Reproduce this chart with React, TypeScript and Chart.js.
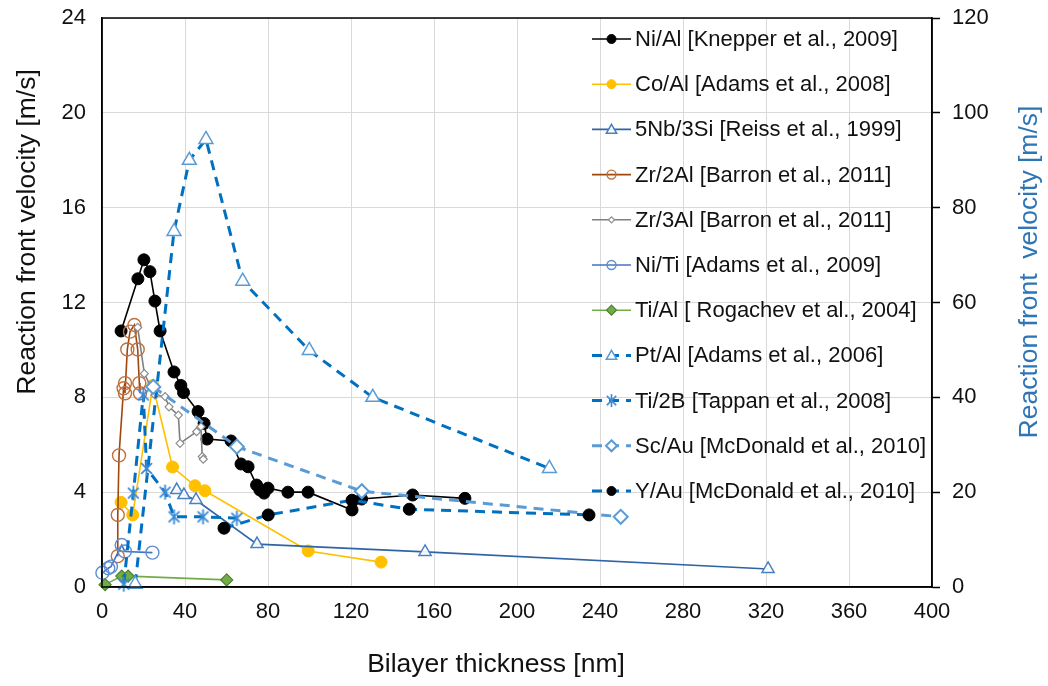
import React, { useEffect, useRef } from 'react';
import { Chart, registerables } from 'chart.js';

Chart.register(...registerables);

const FONT = "'Liberation Sans', Arial, sans-serif";

// ---- Data (bilayer thickness [nm], velocity [m/s]) ----
const niAl: [number, number][] = [
  [9.2, 10.8], [17.3, 13.0], [20.2, 13.8], [23.1, 13.3], [25.5, 12.06], [28, 10.8],
  [34.7, 9.07], [38, 8.5], [39.3, 8.2], [46.3, 7.4], [49.2, 6.9], [50.6, 6.24],
  [62.2, 6.16], [67, 5.19], [70.4, 5.07], [74.5, 4.3], [76.1, 4.09], [78.1, 3.96],
  [80, 4.17], [89.6, 4.0], [99.3, 4.0], [120.5, 3.25], [125.1, 3.71], [149.7, 3.88], [174.9, 3.74],
];
const coAl: [number, number][] = [
  [9.2, 3.57], [14.8, 3.04], [24.5, 8.5], [34, 5.06], [44.8, 4.27], [49.6, 4.06], [99.4, 1.52], [134.5, 1.05],
];
const nbSi: [number, number][] = [
  [36, 4.09], [39.5, 3.88], [45.3, 3.67], [74.7, 1.81], [155.7, 1.48], [321, 0.76],
];
const zr2Al: [number, number][] = [
  [7.6, 1.3], [7.6, 3.04], [8.2, 5.55], [10.4, 8.38], [11.1, 8.6], [11.1, 8.17], [12.2, 10.02],
  [13.5, 10.77], [15.6, 11.05], [17.2, 10.02], [18, 8.6], [18.3, 8.17],
];
const zr3Al: [number, number][] = [
  [17.2, 10.95], [20.4, 9.0], [25.5, 8.1], [30.4, 8.03], [32.3, 7.6], [36.8, 7.25], [37.6, 6.06],
  [45.6, 6.55], [47.7, 6.76], [48.3, 5.5], [48.8, 5.39],
];
const niTi: [number, number][] = [
  [0.2, 0.6], [3, 0.79], [4.3, 0.86], [9.5, 1.77], [11, 1.5], [24.3, 1.45],
];
const tiAl: [number, number][] = [
  [1.5, 0.1], [9.5, 0.46], [12.6, 0.46], [60.1, 0.3],
];
// secondary axis series (right axis, m/s)
const ptAl: [number, number][] = [
  [16, 0.6], [34.7, 75], [42.1, 90], [50.1, 94.4], [67.8, 64.5], [99.9, 49.9], [130.5, 40], [215.6, 25],
];
const ti2B: [number, number][] = [
  [10.5, 0.6], [15.1, 19.8], [19.9, 40.5], [21.5, 25], [30.4, 20], [34.7, 14.8], [48.7, 14.8], [65, 14.5],
];
const scAu: [number, number][] = [
  [24.7, 42.2], [65, 29.6], [125.2, 20.2], [250, 14.8],
];
const yAu: [number, number][] = [
  [58.8, 12.4], [80.1, 15.2], [120.5, 18.3], [148.1, 16.4], [234.7, 15.2],
];

const labels = [
  'Ni/Al [Knepper et al., 2009]',
  'Co/Al [Adams et al., 2008]',
  '5Nb/3Si [Reiss et al., 1999]',
  'Zr/2Al [Barron et al., 2011]',
  'Zr/3Al [Barron et al., 2011]',
  'Ni/Ti [Adams et al., 2009]',
  'Ti/Al [ Rogachev et al., 2004]',
  'Pt/Al [Adams et al., 2006]',
  'Ti/2B [Tappan et al., 2008]',
  'Sc/Au [McDonald et al., 2010]',
  'Y/Au [McDonald et al., 2010]',
];

const xTitle = 'Bilayer thickness [nm]';
const yTitle = 'Reaction front velocity [m/s]';
const y2Title = 'Reaction front  velocity [m/s]';

function makeAsterisk(color: string, size: number, lw: number) {
  const c = document.createElement('canvas');
  c.width = size;
  c.height = size;
  const g = c.getContext('2d')!;
  g.strokeStyle = color;
  g.lineWidth = lw;
  g.lineCap = 'butt';
  const cx = size / 2;
  const r = size / 2 - 1;
  const d = r * 0.72;
  g.beginPath();
  g.moveTo(cx, cx - r); g.lineTo(cx, cx + r);
  g.moveTo(cx - d, cx - d); g.lineTo(cx + d, cx + d);
  g.moveTo(cx + d, cx - d); g.lineTo(cx - d, cx + d);
  g.stroke();
  return c;
}

function drawMarker(ctx: CanvasRenderingContext2D, style: any, x: number, y: number, r: number, fill: string, stroke: string, lw: number) {
  ctx.save();
  ctx.setLineDash([]);
  ctx.lineWidth = lw;
  ctx.strokeStyle = stroke;
  ctx.fillStyle = fill;
  ctx.beginPath();
  if (style === 'circle') {
    ctx.arc(x, y, r, 0, Math.PI * 2);
  } else if (style === 'triangle') {
    for (let k = 0; k < 3; k++) {
      const a = -Math.PI / 2 + (k * 2 * Math.PI) / 3;
      const px = x + Math.cos(a) * r;
      const py = y + Math.sin(a) * r + r * 0.15;
      if (k === 0) ctx.moveTo(px, py); else ctx.lineTo(px, py);
    }
    ctx.closePath();
  } else if (style === 'rectRot') {
    ctx.moveTo(x, y - r); ctx.lineTo(x + r, y); ctx.lineTo(x, y + r); ctx.lineTo(x - r, y); ctx.closePath();
  } else if (style instanceof HTMLCanvasElement) {
    ctx.restore();
    ctx.drawImage(style, x - style.width / 2, y - style.height / 2);
    return;
  }
  ctx.fill();
  ctx.stroke();
  ctx.restore();
}

const toPts = (a: [number, number][]) => a.map(([x, y]) => ({ x, y }));

const noPadV = (w: number) => (s: any) => {
  s.width = w;
  s.paddingTop = 0;
  s.paddingBottom = 0;
};

export default function App() {
  const ref = useRef<HTMLCanvasElement | null>(null);

  useEffect(() => {
    document.body.style.margin = '0';
    const astChart = makeAsterisk('#3a8ad6', 17, 1.8);
    const astLegend = makeAsterisk('#3a8ad6', 15, 1.6);

    const dash = [10, 7];
    const specs: any[] = [
      { data: niAl, axis: 'y', line: '#000000', lw: 1.6, dash: [], ps: 'circle', pr: 6, bg: '#000000', bc: '#000000', bw: 1, lr: 4.5 },
      { data: coAl, axis: 'y', line: '#FFC000', lw: 1.6, dash: [], ps: 'circle', pr: 6, bg: '#FFC000', bc: '#FFC000', bw: 1, lr: 4.5 },
      { data: nbSi, axis: 'y', line: '#2f64a6', lw: 1.6, dash: [], ps: 'triangle', pr: 7, bg: 'rgba(255,255,255,0.9)', bc: '#4a81c0', bw: 1.5, lr: 6 },
      { data: zr2Al, axis: 'y', line: '#9E480E', lw: 1.6, dash: [], ps: 'circle', pr: 6.5, bg: 'rgba(0,0,0,0)', bc: '#c0703c', bw: 1.4, lr: 4.5 },
      { data: zr3Al, axis: 'y', line: '#808080', lw: 1.6, dash: [], ps: 'rectRot', pr: 4, bg: '#ffffff', bc: '#8c8c8c', bw: 1.2, lr: 3 },
      { data: niTi, axis: 'y', line: '#4472C4', lw: 1.6, dash: [], ps: 'circle', pr: 6.5, bg: 'rgba(0,0,0,0)', bc: '#5b8fd0', bw: 1.4, lr: 4.5 },
      { data: tiAl, axis: 'y', line: '#70AD47', lw: 1.6, dash: [], ps: 'rectRot', pr: 6, bg: '#70AD47', bc: '#507e34', bw: 1.2, lr: 5 },
      { data: ptAl, axis: 'y2', line: '#0070C0', lw: 3, dash, ps: 'triangle', pr: 8, bg: '#ffffff', bc: '#5B9BD5', bw: 1.5, lr: 6 },
      { data: ti2B, axis: 'y2', line: '#0070C0', lw: 3, dash, ps: astChart, pr: 8, bg: '#3a8ad6', bc: '#3a8ad6', bw: 1.5, lr: 6, lps: astLegend },
      { data: scAu, axis: 'y2', line: '#5B9BD5', lw: 3, dash, ps: 'rectRot', pr: 7, bg: '#ffffff', bc: '#5B9BD5', bw: 2, lr: 5.5 },
      { data: yAu, axis: 'y2', line: '#0070C0', lw: 3, dash, ps: 'circle', pr: 6, bg: '#000000', bc: '#000000', bw: 1, lr: 4.5 },
    ];

    const datasets = specs.map((s, i) => ({
      label: labels[i],
      data: toPts(s.data),
      yAxisID: s.axis,
      showLine: true,
      borderColor: s.line,
      borderWidth: s.lw,
      borderDash: s.dash,
      pointStyle: s.ps,
      pointRadius: s.pr,
      pointBackgroundColor: s.bg,
      pointBorderColor: s.bc,
      pointBorderWidth: s.bw,
      backgroundColor: s.bg,
      tension: 0,
      order: specs.length - i,
      clip: 8,
    }));

    const overlay = {
      id: 'overlay',
      afterDraw(chart: any) {
        const ctx = chart.ctx as CanvasRenderingContext2D;
        const ca = chart.chartArea;
        ctx.save();
        // plot border
        ctx.strokeStyle = '#000';
        ctx.lineWidth = 1.5;
        ctx.setLineDash([]);
        ctx.strokeRect(ca.left, ca.top, ca.right - ca.left, ca.bottom - ca.top);

        // legend
        const lx0 = 592, lx1 = 631, mx = 611.5, tx = 635;
        ctx.font = `22px ${FONT}`;
        ctx.textBaseline = 'middle';
        ctx.textAlign = 'left';
        specs.forEach((s, i) => {
          const y = 39 + i * 45.2;
          ctx.save();
          ctx.strokeStyle = s.line;
          ctx.lineWidth = s.lw;
          ctx.setLineDash(s.dash);
          ctx.beginPath();
          ctx.moveTo(lx0, y);
          ctx.lineTo(lx1, y);
          ctx.stroke();
          ctx.restore();
          drawMarker(ctx, s.lps || s.ps, mx, y, s.lr, s.bg, s.bc, s.bw);
          ctx.fillStyle = '#111';
          ctx.fillText(labels[i], tx, y + 1);
        });

        // axis titles
        ctx.font = `26.5px ${FONT}`;
        ctx.textAlign = 'center';
        ctx.textBaseline = 'middle';
        ctx.fillStyle = '#111';
        ctx.fillText(xTitle, 496, 665);
        ctx.save();
        ctx.translate(28, 232);
        ctx.rotate(-Math.PI / 2);
        ctx.fillText(yTitle, 0, 0);
        ctx.restore();
        ctx.save();
        ctx.translate(1030, 272);
        ctx.rotate(-Math.PI / 2);
        ctx.fillStyle = '#2E75B6';
        ctx.fillText(y2Title, 0, 0);
        ctx.restore();
        ctx.restore();
      },
    };

    const tickFont = { family: FONT, size: 22 };
    const chart = new Chart(ref.current!, {
      type: 'scatter',
      data: { datasets } as any,
      options: {
        animation: false,
        responsive: true,
        maintainAspectRatio: false,
        layout: { padding: { top: 18, left: 0, right: 0, bottom: 0 } },
        plugins: { legend: { display: false }, tooltip: { enabled: false } },
        scales: {
          x: {
            type: 'linear',
            min: 0,
            max: 400,
            ticks: { stepSize: 40, font: tickFont, color: '#111', padding: 12 },
            grid: { color: '#D9D9D9', lineWidth: 1, drawTicks: false },
            border: { display: true, color: '#000', width: 1.5 },
            afterFit: (s: any) => { s.height = 99; s.paddingLeft = 0; s.paddingRight = 0; },
          },
          y: {
            type: 'linear',
            position: 'left',
            min: 0,
            max: 24,
            ticks: { stepSize: 4, font: tickFont, color: '#111', padding: 16 },
            grid: { color: '#D9D9D9', lineWidth: 1, drawTicks: false },
            border: { display: true, color: '#000', width: 1.5 },
            afterFit: noPadV(102),
          },
          y2: {
            type: 'linear',
            position: 'right',
            min: 0,
            max: 120,
            ticks: { stepSize: 20, font: tickFont, color: '#111', padding: 12 },
            grid: { drawOnChartArea: false, drawTicks: true, tickLength: 8, tickColor: '#000', tickWidth: 1.5 },
            border: { display: true, color: '#000', width: 1.5 },
            afterFit: noPadV(116),
          },
        },
      } as any,
      plugins: [overlay],
    });
    return () => chart.destroy();
  }, []);

  return (
    <div style={{ position: 'fixed', left: 0, top: 0, width: 1048, height: 686, background: '#fff' }}>
      <canvas ref={ref} />
    </div>
  );
}
